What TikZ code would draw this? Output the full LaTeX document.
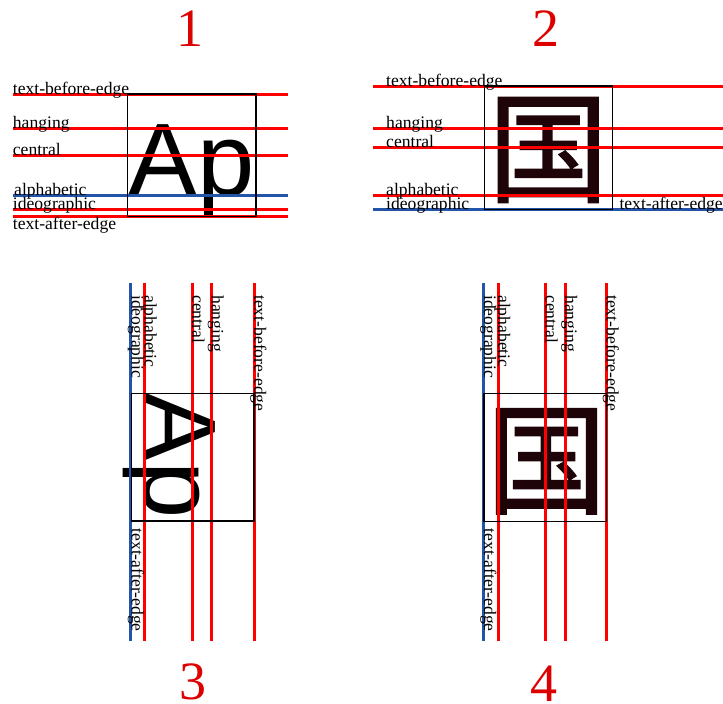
\documentclass[tikz,border=0pt]{standalone}
\usepackage{fontspec}
\setmainfont{Liberation Serif}
\newfontfamily\apfont{Liberation Sans}
\newfontfamily\cjkfont[FakeBold=1.5]{Noto Sans CJK SC}
\newcommand\lblfont{\fontsize{17.6}{20}\selectfont}
\newcommand\numfont{\fontsize{54}{60}\selectfont}
\newcommand\bigap{\apfont\fontsize{103}{110}\selectfont}
\newcommand\bigcjk{\cjkfont\fontsize{120}{125}\selectfont}
\definecolor{lred}{RGB}{255,0,0}
\definecolor{lblue}{RGB}{34,85,170}
\definecolor{numred}{RGB}{221,0,0}
\definecolor{glyphc}{RGB}{30,4,8}
\begin{document}
\begin{tikzpicture}[x=1pt,y=-1pt,
  redline/.style={draw=lred,line width=3pt},
  blueline/.style={draw=lblue,line width=3pt},
  emframe/.style={draw=black,line width=1.3pt},
  lbl/.style={inner sep=0pt,anchor=base west,font=\lblfont},
  vlbl/.style={lbl,rotate=-90},
  num/.style={text=numred,font=\numfont,inner sep=0pt,anchor=base},
  glyph/.style={inner sep=0pt,anchor=base west}]
\useasboundingbox (0,0) rectangle (723,704);

% numbers
\node[num] (n1) at (190,46.7) {1};
\node[num] (n2) at (546,46.7) {2};
\node[num] (n3) at (192.5,699) {3};
\node[num] (n4) at (544,701) {4};

% ---------- panel 1 ----------
\node[glyph,font=\bigap] (ap1) at (128.5,195.3) {Ap};
\draw[redline] (12.7,94) -- (288,94);
\draw[redline] (12.7,128.7) -- (288,128.7);
\draw[redline] (12.7,155.3) -- (288,155.3);
\draw[blueline] (12.7,195.3) -- (288,195.3);
\draw[redline] (12.7,209.3) -- (288,209.3);
\draw[redline] (12.7,216.7) -- (288,216.7);
\draw[emframe] (127.7,94) rectangle (256,216.7);
\node[lbl] (l1a) at (12.7,94) {text-before-edge};
\node[lbl] (l1b) at (12.7,128.7) {hanging};
\node[lbl] (l1c) at (12.7,155.3) {central};
\node[lbl] (l1d) at (14,195.3) {alphabetic};
\node[lbl] (l1e) at (12.7,209.3) {ideographic};
\node[lbl] (l1f) at (12.7,229.3) {text-after-edge};

% ---------- panel 2 ----------
\node[glyph,font=\bigcjk,text=glyphc] (g2) at (488,193) {国};
\draw[redline] (373.3,86) -- (723,86);
\draw[redline] (373.3,128.7) -- (723,128.7);
\draw[redline] (373.3,147.7) -- (723,147.7);
\draw[redline] (373.3,195.3) -- (723,195.3);
\draw[blueline] (373.3,209.3) -- (723,209.3);
\draw[emframe] (484.3,86) rectangle (612.7,209.3);
\node[lbl] (l2a) at (386,86) {text-before-edge};
\node[lbl] (l2b) at (386,128.7) {hanging};
\node[lbl] (l2c) at (386,147.7) {central};
\node[lbl] (l2d) at (386,195.3) {alphabetic};
\node[lbl] (l2e) at (386,209.3) {ideographic};
\node[lbl] (l2f) at (619.3,209.3) {text-after-edge};

% ---------- panel 3 ----------
\node[glyph,font=\bigap,rotate=-90] (ap3) at (144.7,392.5) {Ap};
\draw[blueline] (130.7,283.3) -- (130.7,641);
\draw[redline] (144.7,283.3) -- (144.7,641);
\draw[redline] (192.3,283.3) -- (192.3,641);
\draw[redline] (211.7,283.3) -- (211.7,641);
\draw[redline] (254,283.3) -- (254,641);
\draw[emframe] (131.7,393.3) rectangle (254,521);
\node[vlbl] (l3a) at (254,295) {text-before-edge};
\node[vlbl] (l3b) at (211.7,295) {hanging};
\node[vlbl] (l3c) at (192.3,295) {central};
\node[vlbl] (l3d) at (144.7,295) {alphabetic};
\node[vlbl] (l3e) at (131.5,295) {ideographic};
\node[vlbl] (l3f) at (131.5,528.3) {text-after-edge};

% ---------- panel 4 ----------
\node[glyph,font=\bigcjk,text=glyphc] (g4) at (486.3,504.3) {国};
\draw[blueline] (483.3,283.3) -- (483.3,641);
\draw[redline] (498,283.3) -- (498,641);
\draw[redline] (545.7,283.3) -- (545.7,641);
\draw[redline] (565,283.3) -- (565,641);
\draw[redline] (606.7,283.3) -- (606.7,641);
\draw[emframe] (484,393.3) rectangle (606.7,521.7);
\node[vlbl] (l4a) at (606.7,295) {text-before-edge};
\node[vlbl] (l4b) at (565,295) {hanging};
\node[vlbl] (l4c) at (545.7,295) {central};
\node[vlbl] (l4d) at (498,295) {alphabetic};
\node[vlbl] (l4e) at (484,295) {ideographic};
\node[vlbl] (l4f) at (484,528.3) {text-after-edge};
\end{tikzpicture}
\end{document}
